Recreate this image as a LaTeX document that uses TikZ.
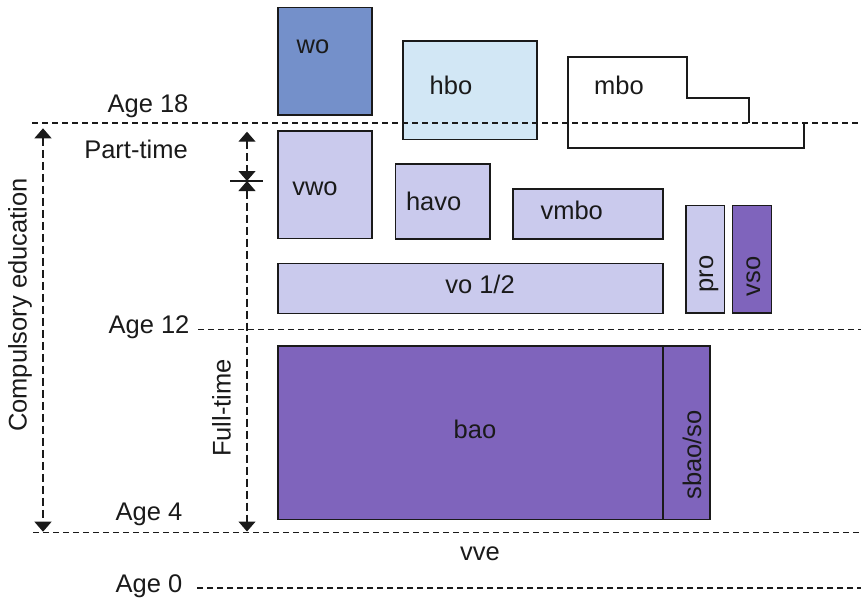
\documentclass[tikz,border=0pt]{standalone}
\usepackage{fontspec}
\setmainfont{Liberation Sans}
\usetikzlibrary{arrows.meta,positioning,calc}
\definecolor{ink}{HTML}{1A1A1A}
\definecolor{wofill}{HTML}{7490CA}
\definecolor{hbofill}{HTML}{D2E7F5}
\definecolor{secfill}{HTML}{CACAED}
\definecolor{primfill}{HTML}{7F64BC}
\newcommand{\agefont}{\fontsize{25.5}{30}\selectfont}
\tikzset{
  every node/.style={font=\agefont,text=ink},
  lvl/.style={draw=ink,line width=1.3pt,inner sep=0pt},
  uni/.style={lvl,fill=wofill},
  hbobox/.style={lvl,fill=hbofill},
  sec/.style={lvl,fill=secfill},
  prim/.style={lvl,fill=primfill},
  outline/.style={draw=ink,line width=1.3pt},
  ageline/.style={draw=ink,line width=1.2pt,dash pattern=on 6pt off 4pt},
  spanarr/.style={{Triangle[width=17pt,length=10pt]}-{Triangle[width=17pt,length=10pt]},draw=ink,line width=1.3pt,dash pattern=on 8pt off 4pt},
  lbl/.style={anchor=base,inner sep=0pt},
  vlbl/.style={lbl,rotate=90}
}

\begin{document}
\begin{tikzpicture}[x=1pt,y=-1pt]
  \useasboundingbox (0,0) rectangle (861,598);

  % school types
  \node[uni,minimum width=94pt,minimum height=107.5pt] (wo) at (325,61.25) {};
  \node[hbobox,minimum width=134pt,minimum height=98.3pt] (hbo) at (470,90.2) {};
  \node[sec,minimum width=94pt,minimum height=107.5pt] (vwo) at (325,184.75) {};
  \node[sec,minimum width=94.5pt,minimum height=75pt] (havo) at (442.75,201.5) {};
  \node[sec,minimum width=150pt,minimum height=50pt] (vmbo) at (588,214) {};
  \node[sec,minimum width=385pt,minimum height=50pt] (vo) at (470.5,288.3) {};
  \node[sec,minimum width=38.3pt,minimum height=107.5pt] (pro) at (705.2,259.25) {};
  \node[prim,minimum width=39pt,minimum height=107.5pt] (vso) at (752.2,259.25) {};
  \node[prim,minimum width=385pt,minimum height=173.5pt] (bao) at (470.5,432.75) {};
  \node[prim,minimum width=47pt,minimum height=173.5pt] (sbao) at (686.5,432.75) {};
  \draw[outline] (749,123) -- (749,98) -- (687,98) -- (687,57) -- (568,57)
    -- (568,148) -- (804,148) -- (804,123);

  % age lines
  \coordinate (a18w) at (32,123);    \coordinate (a18e) at (861,123);
  \coordinate (a12w) at (198,329.3); \coordinate (a12e) at (861,329.3);
  \coordinate (a4w) at (33,532.5);   \coordinate (a4e) at (861,532.5);
  \coordinate (a0w) at (197,588);    \coordinate (a0e) at (861,588);
  \draw[ageline] (a18w) -- (a18e);
  \draw[ageline] (a12w) -- (a12e);
  \draw[ageline] (a4w) -- (a4e);
  \draw[ageline] (a0w) -- (a0e);

  % spans
  \coordinate (ctop) at (43,128.3);  \coordinate (cbot) at (43,531.7);
  \coordinate (ptop) at (247,131.7); \coordinate (split) at (247,181);
  \coordinate (fbot) at (247,531.5);
  \coordinate (barw) at (230,181);   \coordinate (bare) at (263,181);
  \draw[spanarr] (ctop) -- (cbot);
  \draw[spanarr] (ptop) -- (split);
  \draw[spanarr] (split) -- (fbot);
  \draw[outline] (barw) -- (bare);

  % labels
  \node[lbl] (l18) at (148,112.7) {Age 18};
  \node[lbl] (lpart) at (136,158.3) {Part-time};
  \node[lbl] (l12) at (149,333.3) {Age 12};
  \node[lbl] (l4) at (149,520) {Age 4};
  \node[lbl] (l0) at (149,592) {Age 0};
  \node[lbl] (lvve) at (480,560) {vve};
  \node[vlbl] (lcomp) at (26.7,305) {Compulsory education};
  \node[vlbl] (lfull) at (230.7,408) {Full-time};
  \node[lbl] (lwo) at (313,53.3) {wo};
  \node[lbl] (lhbo) at (451,94) {hbo};
  \node[lbl] (lmbo) at (619,94) {mbo};
  \node[lbl] (lvwo) at (315,195) {vwo};
  \node[lbl] (lhavo) at (433.7,210) {havo};
  \node[lbl] (lvmbo) at (571.7,219.3) {vmbo};
  \node[lbl] (lvo) at (480,293) {vo 1/2};
  \node[lbl] (lbao) at (475,438) {bao};
  \node[vlbl] (lpro) at (713,274) {pro};
  \node[vlbl] (lvso) at (760,276.5) {vso};
  \node[vlbl] (lsbao) at (701,455) {sbao/so};
\end{tikzpicture}
\end{document}
